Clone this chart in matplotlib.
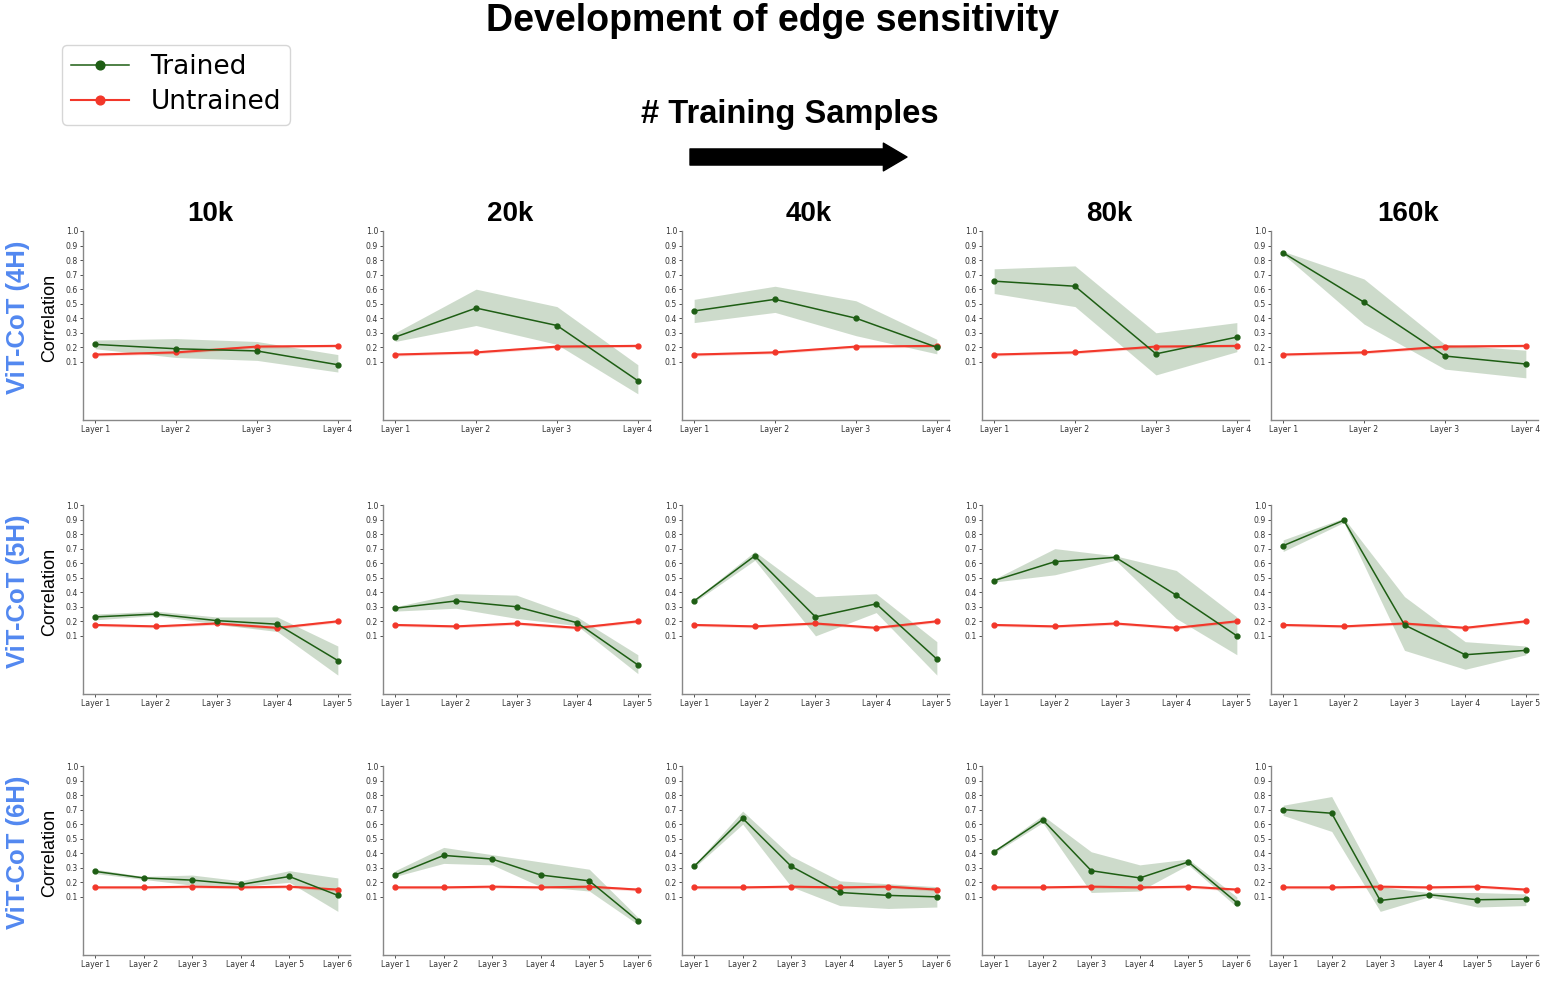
import numpy as np
import matplotlib.pyplot as plt

samples = ["10k", "20k", "40k", "80k", "160k"]
models = ["ViT-CoT (4H)", "ViT-CoT (5H)", "ViT-CoT (6H)"]

# untrained baseline per model (same in every column)
untrained_4h = [0.15, 0.165, 0.205, 0.21]
untrained_5h = [0.175, 0.165, 0.185, 0.155, 0.20]
untrained_6h = [0.165, 0.165, 0.17, 0.165, 0.17, 0.15]

# trained mean, lower and upper band; one row per sample size
trained_4h = [[0.22, 0.19, 0.175, 0.08],
              [0.27, 0.47, 0.35, -0.03],
              [0.45, 0.53, 0.40, 0.20],
              [0.655, 0.62, 0.155, 0.27],
              [0.85, 0.51, 0.14, 0.085]]
trained_4h_lo = [[0.19, 0.13, 0.11, 0.03],
                 [0.24, 0.35, 0.22, -0.12],
                 [0.37, 0.44, 0.28, 0.155],
                 [0.57, 0.48, 0.01, 0.17],
                 [0.84, 0.36, 0.05, -0.01]]
trained_4h_hi = [[0.25, 0.26, 0.24, 0.15],
                 [0.30, 0.60, 0.48, 0.08],
                 [0.53, 0.62, 0.52, 0.255],
                 [0.74, 0.76, 0.30, 0.37],
                 [0.86, 0.67, 0.22, 0.18]]

trained_5h = [[0.23, 0.25, 0.205, 0.18, -0.07],
              [0.29, 0.34, 0.30, 0.19, -0.10],
              [0.34, 0.65, 0.23, 0.32, -0.06],
              [0.48, 0.61, 0.64, 0.38, 0.10],
              [0.72, 0.895, 0.175, -0.03, 0.0]]
trained_5h_lo = [[0.21, 0.24, 0.18, 0.13, -0.17],
                 [0.27, 0.29, 0.22, 0.17, -0.16],
                 [0.33, 0.62, 0.10, 0.26, -0.17],
                 [0.47, 0.52, 0.62, 0.22, -0.03],
                 [0.68, 0.88, 0.0, -0.13, -0.03]]
trained_5h_hi = [[0.25, 0.27, 0.23, 0.23, 0.03],
                 [0.30, 0.39, 0.38, 0.23, -0.03],
                 [0.35, 0.68, 0.37, 0.39, 0.06],
                 [0.49, 0.70, 0.65, 0.55, 0.23],
                 [0.76, 0.91, 0.37, 0.06, 0.03]]

trained_6h = [[0.275, 0.23, 0.215, 0.185, 0.24, 0.11],
              [0.25, 0.385, 0.36, 0.25, 0.21, -0.065],
              [0.31, 0.64, 0.31, 0.13, 0.11, 0.10],
              [0.41, 0.63, 0.28, 0.23, 0.34, 0.06],
              [0.70, 0.675, 0.075, 0.115, 0.08, 0.085]]
trained_6h_lo = [[0.26, 0.22, 0.18, 0.17, 0.20, 0.0],
                 [0.24, 0.33, 0.32, 0.17, 0.14, -0.09],
                 [0.30, 0.60, 0.17, 0.04, 0.02, 0.03],
                 [0.40, 0.61, 0.13, 0.14, 0.32, 0.03],
                 [0.66, 0.55, 0.0, 0.10, 0.03, 0.04]]
trained_6h_hi = [[0.29, 0.24, 0.25, 0.21, 0.28, 0.23],
                 [0.28, 0.44, 0.39, 0.34, 0.29, -0.04],
                 [0.32, 0.69, 0.38, 0.21, 0.19, 0.17],
                 [0.42, 0.66, 0.41, 0.32, 0.36, 0.10],
                 [0.73, 0.79, 0.17, 0.13, 0.13, 0.12]]

rows = [
    (untrained_4h, trained_4h, trained_4h_lo, trained_4h_hi),
    (untrained_5h, trained_5h, trained_5h_lo, trained_5h_hi),
    (untrained_6h, trained_6h, trained_6h_lo, trained_6h_hi),
]

green = "#1e5e14"
red = "#f2372a"
W, H = 1546, 986

fig = plt.figure(figsize=(15.46, 9.86), dpi=100)

col_left = [83, 383, 682, 982, 1271]
row_top = [231, 505, 766]
title_x = [0.478, 0.478, 0.475, 0.475, 0.515]
ax_w, ax_h = 267, 189

for r, (untr, tr, lo, hi) in enumerate(rows):
    n = len(untr)
    x = np.arange(n)
    labels = ["Layer %d" % (i + 1) for i in range(n)]
    for c in range(len(samples)):
        ax = fig.add_axes([col_left[c] / W, 1 - (row_top[r] + ax_h) / H, ax_w / W, ax_h / H])
        ax.fill_between(x, np.array(untr) - 0.01, np.array(untr) + 0.01, color=red, alpha=0.2, lw=0)
        ax.plot(x, untr, "-o", color=red, lw=1.5, ms=3.5, label="Untrained", zorder=3)
        ax.fill_between(x, lo[c], hi[c], color=green, alpha=0.22, lw=0)
        ax.plot(x, tr[c], "-o", color=green, lw=1.1, ms=3.5, label="Trained", zorder=4)
        ax.set_ylim(-0.3, 1.0)
        ax.set_yticks(np.round(np.arange(0.1, 1.01, 0.1), 1))
        ax.set_yticklabels(["%.1f" % v for v in np.arange(0.1, 1.01, 0.1)])
        ax.set_xticks(x)
        ax.set_xticklabels(labels)
        ax.tick_params(labelsize=5.6, length=2, width=0.6, pad=1.5, colors="#333333")
        for s in ["top", "right"]:
            ax.spines[s].set_visible(False)
        for s in ["left", "bottom"]:
            ax.spines[s].set_color("#888888")
            ax.spines[s].set_linewidth(1.0)
        if r == 0:
            ax.set_title(samples[c], fontsize=20, fontweight="bold", family="Liberation Sans",
                         pad=7, x=title_x[c])
        if c == 0:
            ax.set_ylabel("Correlation", fontsize=13, family="Liberation Sans", labelpad=2)
            ax.yaxis.set_label_coords(-0.095, 0.54)
            fig.text(18 / W, 1 - (row_top[r] + 86) / H, models[r], rotation=90,
                     fontsize=18.5, fontweight="bold", color="#5288f0",
                     family="Liberation Sans", ha="center", va="center")
        if r == 0 and c == 0:
            handles, leg_labels = ax.get_legend_handles_labels()

fig.text(773 / W, 1 - 21 / H, "Development of edge sensitivity", ha="center", va="center",
         fontsize=27, fontweight="bold", family="Liberation Sans")
fig.text(790 / W, 1 - 114 / H, "# Training Samples", ha="center", va="center",
         fontsize=23.5, fontweight="bold", family="Liberation Sans")
fig.add_artist(plt.Annotation("", xy=(907 / W, 1 - 157 / H), xytext=(690 / W, 1 - 157 / H),
                              xycoords="figure fraction", textcoords="figure fraction",
                              arrowprops=dict(arrowstyle="simple,head_width=1.0,head_length=0.85,tail_width=0.58",
                                              color="black", mutation_scale=20, shrinkA=0, shrinkB=0)))

fig.legend(handles[::-1], leg_labels[::-1], loc="upper left", bbox_to_anchor=(62 / W, 1 - 45 / H),
           fontsize=19, frameon=True, borderaxespad=0, handlelength=2.2, markerscale=1.8,
           borderpad=0.35, labelspacing=0.35)

fig.savefig("out.png", dpi=100)
